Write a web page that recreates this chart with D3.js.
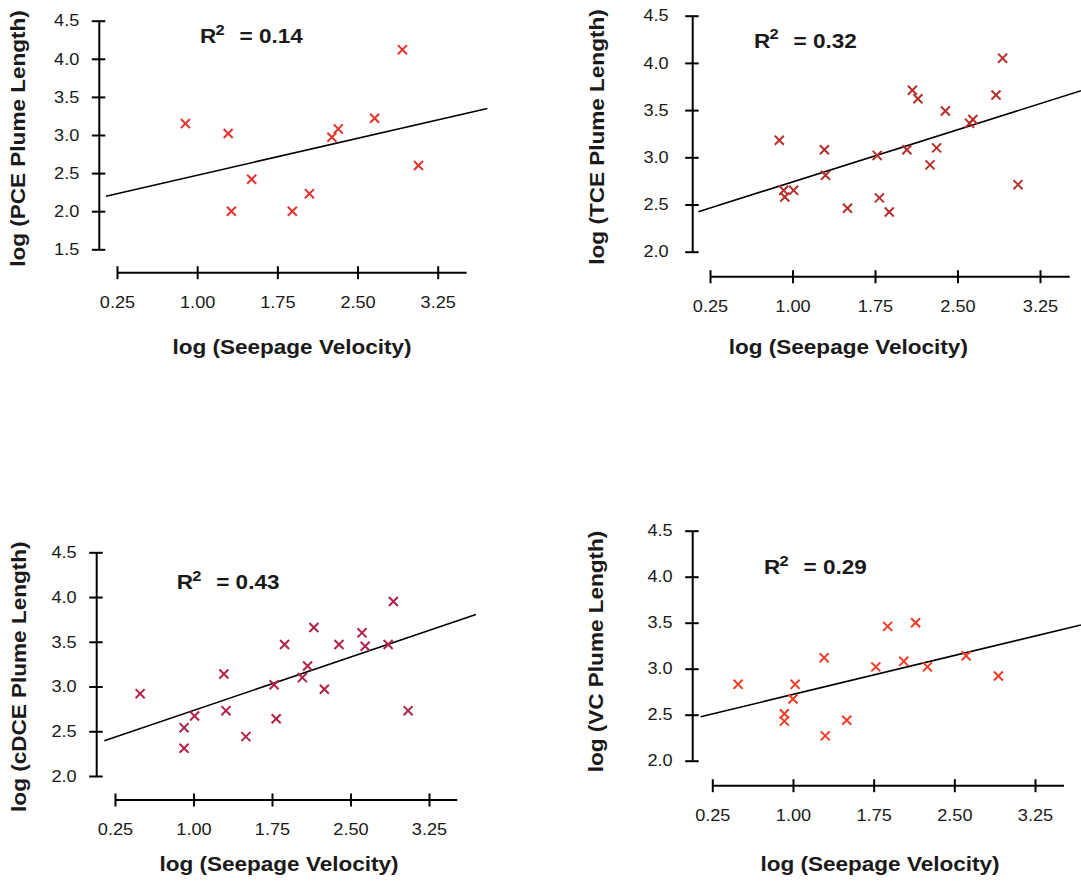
<!DOCTYPE html>
<html>
<head>
<meta charset="utf-8">
<script src="https://cdn.jsdelivr.net/npm/d3@7"></script>
<style>
	body { margin: 0; background: #fff; }
	svg { display: block; }
	text { font-family: "Liberation Sans", Arial, sans-serif; fill: #1a1a1a; }
</style>
</head>
<body>
<div id="vis"></div>
<script>
// values
var chemicals = ["PCE", "TCE", "cDCE", "VC"];
var r2Values  = ["0.14", "0.32", "0.43", "0.29"];

var pceX  = [0.89, 1.29, 1.32, 1.51, 1.89, 2.05, 2.26, 2.32, 2.66, 2.92, 3.07];
var pceY  = [3.15, 3.02, 2.00, 2.42, 2.00, 2.23, 2.97, 3.08, 3.22, 4.12, 2.60];

var tceX  = [0.88, 0.92, 0.93, 1.01, 1.29, 1.30, 1.50, 1.77, 1.79, 1.88, 2.04, 2.09, 2.14, 2.25, 2.31, 2.39, 2.61, 2.64, 2.85, 2.91, 3.05];
var tceY  = [3.18, 2.65, 2.58, 2.65, 3.08, 2.81, 2.46, 3.02, 2.57, 2.42, 3.08, 3.71, 3.62, 2.92, 3.10, 3.49, 3.36, 3.40, 3.66, 4.05, 2.71];

var cdceX = [0.49, 0.91, 0.91, 1.01, 1.29, 1.31, 1.50, 1.77, 1.79, 1.87, 2.04, 2.09, 2.15, 2.25, 2.39, 2.61, 2.64, 2.86, 2.91, 3.05];
var cdceY = [2.92, 2.54, 2.31, 2.67, 3.14, 2.73, 2.44, 3.02, 2.64, 3.47, 3.10, 3.23, 3.66, 2.97, 3.47, 3.60, 3.45, 3.47, 3.95, 2.73];

var vcX   = [0.49, 0.92, 0.92, 1.00, 1.02, 1.29, 1.30, 1.50, 1.77, 1.88, 2.03, 2.14, 2.25, 2.61, 2.91];
var vcY   = [2.83, 2.51, 2.43, 2.67, 2.83, 3.12, 2.27, 2.44, 3.02, 3.46, 3.08, 3.50, 3.02, 3.14, 2.92];

// regression line end points (x, y)
var pceFit  = [[0.147, 2.197], [3.715, 3.347]];
var tceFit  = [[0.144, 2.424], [3.623, 3.706]];
var cdceFit = [[0.148, 2.393], [3.698, 3.806]];
var vcFit   = [[0.142, 2.478], [3.677, 3.475]];

// tick labels
var xTicks  = [0.25, 1.00, 1.75, 2.50, 3.25];
var xAxisEnd = 3.52;
var yTicksPce = [1.5, 2.0, 2.5, 3.0, 3.5, 4.0, 4.5];
var yTicks    = [2.0, 2.5, 3.0, 3.5, 4.0, 4.5];

var seriesX = [pceX, tceX, cdceX, vcX];
var seriesY = [pceY, tceY, cdceY, vcY];
var fits    = [pceFit, tceFit, cdceFit, vcFit];
var yTickSets = [yTicksPce, yTicks, yTicks, yTicks];
var colors  = ["#e3342f", "#b3302c", "#b02347", "#f03c26"];

// layout of each panel, in pixels
var layout = [
	{ left: 117,   right: 437.7, top: 20.7,  bottom: 249.3, axisY: 272.7, axisX: 99.3,  gap: 20, r2x: 200,   r2y: 43.3,  ytx: 18,  yty: 138.5, xtx: 292,   xty: 354 },
	{ left: 710,   right: 1040,  top: 15.7,  bottom: 251.7, axisY: 276.7, axisX: 692.7, gap: 24, r2x: 754,   r2y: 47.7,  ytx: 597, yty: 137,   xtx: 848.3, xty: 354 },
	{ left: 115,   right: 429,   top: 552.3, bottom: 776,   axisY: 800,   axisX: 96.7,  gap: 20, r2x: 176.7, r2y: 589.3, ytx: 19,  yty: 676.7, xtx: 279,   xty: 870.7 },
	{ left: 712.3, right: 1035,  top: 530.7, bottom: 760.7, axisY: 785.7, axisX: 692.7, gap: 20, r2x: 764,   r2y: 574.3, ytx: 596, yty: 651.5, xtx: 880,   xty: 870.7 }
];

var width = 1081;
var height = 882;
var STRETCH = 1.1;   // the source glyphs are a bit wider than Arial

var svg = d3.select('#vis').append('svg')
	.attr('width', width)
	.attr('height', height);

function place(sel, x, y) {
	return sel.attr("transform", "translate(" + x + "," + y + ") scale(" + STRETCH + ",1)");
}

function drawPanel(i) {
	var L = layout[i];
	var yt = yTickSets[i];

	var x = d3.scaleLinear().domain([0.25, 3.25]).range([L.left, L.right]);
	var y = d3.scaleLinear().domain([yt[0], 4.5]).range([L.bottom, L.top]);

	var g = svg.append("g").attr("class", "panel panel-" + i);

	// x axis
	var xa = g.append("g")
		.attr("class", "x axis")
		.attr("transform", "translate(0," + L.axisY + ")")
		.call(d3.axisBottom(x).tickValues(xTicks).tickFormat(d3.format(".2f")).tickSize(6.5));
	xa.select(".domain").remove();
	xa.selectAll(".tick line").attr("y1", -6.5).attr("y2", 6.5).attr("stroke", "#000").attr("stroke-width", 2);
	xa.selectAll(".tick text")
		.attr("y", 0).attr("dy", 0)
		.attr("font-family", null)
		.style("font-size", "16.5px")
		.attr("fill", "#1a1a1a")
		.attr("transform", "translate(0,35) scale(" + STRETCH + ",1)");
	xa.append("line")
		.attr("x1", x(0.25)).attr("x2", x(xAxisEnd))
		.attr("stroke", "#000").attr("stroke-width", 2);

	// y axis
	var ya = g.append("g")
		.attr("class", "y axis")
		.attr("transform", "translate(" + L.axisX + ",0)")
		.call(d3.axisLeft(y).tickValues(yt).tickFormat(d3.format(".1f")).tickSize(7));
	ya.select(".domain").remove();
	ya.selectAll(".tick line").attr("x1", -7.5).attr("x2", 6).attr("stroke", "#000").attr("stroke-width", 2);
	ya.selectAll(".tick text")
		.attr("x", 0)
		.attr("font-family", null)
		.style("font-size", "16.5px")
		.attr("fill", "#1a1a1a")
		.attr("transform", "translate(" + (-L.gap) + ",0) scale(" + STRETCH + ",1)");
	ya.append("line")
		.attr("y1", y(yt[0])).attr("y2", y(4.5))
		.attr("stroke", "#000").attr("stroke-width", 2);

	// regression line
	var line = d3.line()
		.x(function (d) { return x(d[0]); })
		.y(function (d) { return y(d[1]); });
	g.append("path")
		.datum(fits[i])
		.attr("d", line)
		.attr("fill", "none")
		.attr("stroke", "#000")
		.attr("stroke-width", 1.6);

	// points
	var pts = seriesX[i].map(function (v, k) { return [v, seriesY[i][k]]; });
	g.selectAll(".pt")
		.data(pts)
		.enter().append("path")
		.attr("class", "pt")
		.attr("d", d3.symbol(d3.symbolX, 55))
		.attr("transform", function (d) { return "translate(" + x(d[0]) + "," + y(d[1]) + ")"; })
		.attr("fill", "none")
		.attr("stroke", colors[i])
		.attr("stroke-width", 2);

	// R squared label
	place(g.append("text"), L.r2x, L.r2y)
		.style("font-size", "20.5px").style("font-weight", "bold")
		.text("R");
	place(g.append("text"), L.r2x + 15.5, L.r2y - 8.5)
		.style("font-size", "15px").style("font-weight", "bold")
		.text("2");
	place(g.append("text"), L.r2x + 39.5, L.r2y)
		.style("font-size", "20.5px").style("font-weight", "bold")
		.text("= " + r2Values[i]);

	// axis titles
	place(g.append("text"), L.xtx, L.xty)
		.attr("text-anchor", "middle")
		.style("font-size", "20.5px").style("font-weight", "bold")
		.text("log (Seepage Velocity)");

	g.append("text")
		.attr("transform", "translate(" + L.ytx + "," + L.yty + ") rotate(-90) scale(" + STRETCH + ",1)")
		.attr("text-anchor", "middle")
		.attr("dy", "0.35em")
		.style("font-size", "20.5px").style("font-weight", "bold")
		.text("log (" + chemicals[i] + " Plume Length)");
}

for (var i = 0; i < chemicals.length; i++) {
	drawPanel(i);
}
</script>
</body>
</html>
